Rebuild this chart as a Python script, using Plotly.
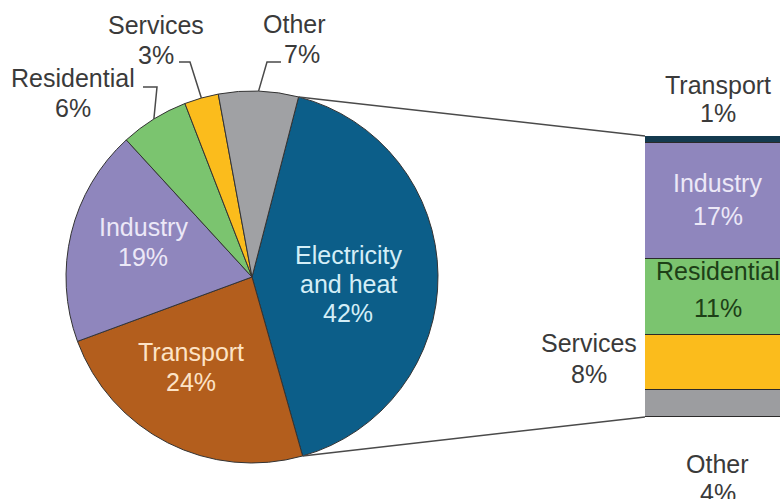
import math
import plotly.graph_objects as go

W, H = 780, 499

# Share of CO2 emissions by sector (%)
sectors = ["Electricity and heat", "Transport", "Industry", "Residential", "Services", "Other"]
sector_share = [42, 24, 19, 6, 3, 7]
sector_colors = ["#0c5e89", "#b35e1d", "#8f86bd", "#7bc46f", "#fbbc1c", "#a0a1a4"]

# Electricity and heat reallocated to end-use sectors (%), stacked bottom to top
end_uses = ["Other", "Services", "Residential", "Industry", "Transport"]
end_use_share = [4, 8, 11, 17, 1]
end_use_colors = ["#9c9da0", "#fbbc1c", "#7bc46f", "#8f86bd", "#143a4f"]

FONT = "Liberation Sans, Arial, sans-serif"
FS = 25
DARK = "#3a3a3a"

# pie placement (pixels)
PIE_CX, PIE_CY, PIE_R = 252, 277, 186
ROTATION = 14.5
pie_dom_x = [(PIE_CX - PIE_R) / W, (PIE_CX + PIE_R) / W]
pie_dom_y = [1 - (PIE_CY + PIE_R) / H, 1 - (PIE_CY - PIE_R) / H]

# bar placement (pixels)
BAR_LEFT, BAR_TOP, BAR_BOTTOM = 645, 136, 417
bar_dom_x = [BAR_LEFT / W, 1.0]
bar_dom_y = [1 - BAR_BOTTOM / H, 1 - BAR_TOP / H]
bar_total = sum(end_use_share)
x_hi = -0.5 + (W - BAR_LEFT) / 145.0  # bar of width 1 spans 145 px, clipped at right edge

fig = go.Figure()

fig.add_trace(go.Pie(
    labels=sectors, values=sector_share, sort=False, direction="clockwise",
    rotation=ROTATION, textinfo="none", showlegend=False,
    marker=dict(colors=sector_colors, line=dict(color="#333333", width=1)),
    domain=dict(x=pie_dom_x, y=pie_dom_y),
))

for name, val, col in zip(end_uses, end_use_share, end_use_colors):
    fig.add_trace(go.Bar(
        x=[0], y=[val], name=name, width=1, showlegend=False,
        marker=dict(color=col, line=dict(color="#2a2a2a", width=1.2)),
        xaxis="x", yaxis="y",
    ))


def pie_point(angle_deg):
    """Point on the pie rim at a clockwise angle from 12 o'clock, in paper coords."""
    a = math.radians(angle_deg)
    px = PIE_CX + PIE_R * math.sin(a)
    py = PIE_CY - PIE_R * math.cos(a)
    return px / W, 1 - py / H


total = sum(sector_share)
starts, acc = [], ROTATION
for v in sector_share:
    starts.append(acc)
    acc += 360.0 * v / total
mids = [s + 180.0 * v / total for s, v in zip(starts, sector_share)]

shapes = []
# connectors from the electricity slice to the bar
top_pt = pie_point(starts[0])
bot_pt = pie_point(starts[0] + 360.0 * sector_share[0] / total)
for (px, py), by in ((top_pt, bar_dom_y[1]), (bot_pt, bar_dom_y[0])):
    shapes.append(dict(type="line", xref="paper", yref="paper",
                       x0=px, y0=py, x1=bar_dom_x[0], y1=by,
                       line=dict(color="#4a4a4a", width=1.5)))

# leader lines for the small slices: (text end, elbow) in pixels
leaders = {
    "Residential": ((143, 87), (157, 87)),
    "Services": ((179, 62), (190, 62)),
    "Other": ((281, 62), (267, 62)),
}
for i, name in enumerate(sectors):
    if name in leaders:
        (sx, sy), (ex, ey) = leaders[name]
        rx, ry = pie_point(mids[i])
        path = "M {} {} L {} {} L {} {}".format(
            sx / W, 1 - sy / H, ex / W, 1 - ey / H, rx, ry)
        shapes.append(dict(type="path", xref="paper", yref="paper", path=path,
                           line=dict(color="#4a4a4a", width=1.5)))

annotations = []


def add_text(x, y, txt, color, xref="paper", yref="paper", yshift=0, xshift=0):
    annotations.append(dict(
        x=x, y=y, xref=xref, yref=yref, text=txt, showarrow=False,
        xanchor="center", yanchor="middle", yshift=yshift, xshift=xshift,
        font=dict(family=FONT, size=FS, color=color)))


def two_line(x, y, top, bottom, color, xref="paper", yref="paper",
             gap=30, yshift=0, xshift=0, dx_bottom=0):
    add_text(x, y, top, color, xref, yref, yshift + gap / 2, xshift)
    add_text(x, y, bottom, color, xref, yref, yshift - gap / 2, xshift + dx_bottom)


# pie labels: (centre x, centre y, x offset of second line) in pixels
pie_labels = {
    "Electricity and heat": ((348, 284, 0), "#d4eef7"),
    "Transport": ((191, 367, 0), "#fde3c6"),
    "Industry": ((143, 242, 0), "#ece8f7"),
    "Residential": ((73, 93, 0), DARK),
    "Services": ((156, 40, 0), DARK),
    "Other": ((294, 39, 8), DARK),
}
for name, v in zip(sectors, sector_share):
    (lx, ly, dxb), col = pie_labels[name]
    if name == "Electricity and heat":
        for txt, dy in (("Electricity", 29), ("and heat", 0), (f"{v}%", -29)):
            add_text(lx / W, 1 - ly / H, txt, col, yshift=dy)
    else:
        two_line(lx / W, 1 - ly / H, name, f"{v}%", col, dx_bottom=dxb)

# bar labels
cum = []
c = 0
for v in end_use_share:
    cum.append(c)
    c += v
for name, v, base in zip(end_uses, end_use_share, cum):
    mid = base + v / 2
    if name == "Industry":
        two_line(0, mid, name, f"{v}%", "#ece8f7", xref="x", yref="y", gap=33, yshift=2)
    elif name == "Residential":
        two_line(0, mid, name, f"{v}%", "#1d3f17", xref="x", yref="y", gap=37, yshift=8)
    elif name == "Services":
        two_line(-0.5, mid, name, f"{v}%", DARK, xref="x", yref="y",
                 xshift=-56, yshift=4, gap=31)
    elif name == "Transport":
        two_line(0, base + v, name, f"{v}%", DARK, xref="x", yref="y", yshift=37, gap=28)
    elif name == "Other":
        two_line(0, base, name, f"{v}%", DARK, xref="x", yref="y", yshift=-61, gap=29)

fig.update_layout(
    width=W, height=H, margin=dict(l=0, r=0, t=0, b=0),
    paper_bgcolor="white", plot_bgcolor="white",
    barmode="stack", bargap=0,
    xaxis=dict(domain=bar_dom_x, range=[-0.5, x_hi], visible=False, fixedrange=True),
    yaxis=dict(domain=bar_dom_y, range=[0, bar_total], visible=False, fixedrange=True),
    shapes=shapes, annotations=annotations,
    font=dict(family=FONT),
)

fig.write_html("out.html")
